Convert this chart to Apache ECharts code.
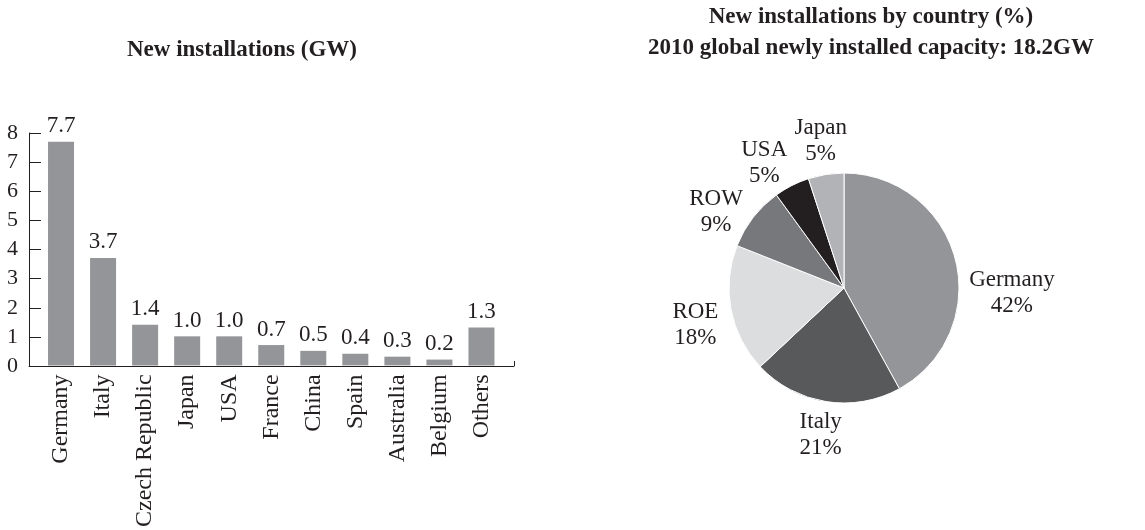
<!DOCTYPE html>
<html>
<head>
<meta charset="utf-8">
<script src="https://cdn.jsdelivr.net/npm/echarts@6/dist/echarts.min.js"></script>
<style>
  html, body { margin: 0; padding: 0; background: #ffffff; }
  #chart { width: 1145px; height: 530px; }
</style>
</head>
<body>
<div id="chart"></div>
<script>
// New PV installations in 2010, by country (GW)
const barCategories = ['Germany', 'Italy', 'Czech Republic', 'Japan', 'USA', 'France', 'China', 'Spain', 'Australia', 'Belgium', 'Others'];
const barValues = [7.7, 3.7, 1.4, 1.0, 1.0, 0.7, 0.5, 0.4, 0.3, 0.2, 1.3];
const yTicks = { min: 0, max: 8, interval: 1 };

// Share of the 2010 global newly installed capacity (%)
const pieNames = ['Germany', 'Italy', 'ROE', 'ROW', 'USA', 'Japan'];
const pieValues = [42, 21, 18, 9, 5, 5];

const barTitle = 'New installations (GW)';
const pieTitle = 'New installations by country (%)\n2010 global newly installed capacity: 18.2GW';

const FONT = "'Liberation Serif', 'Times New Roman', serif";
const INK = '#231f20';
const pieColors = ['#939598', '#58595b', '#dcdddf', '#77787b', '#231f20', '#b1b3b6'];

const pieCenter = [844, 288];
const pieRadius = 115;

// Label placement around the pie: angle shift (deg) and distance from centre
const labelTweaks = {
  Germany: { da: 16, dist: 168 },
  ROE: { da: -3, dist: 153 },
  ROW: { da: -7, dist: 149 },
  USA: { da: -5.6, dist: 148 }
};

const pieTotal = pieValues.reduce((a, b) => a + b, 0);
const midAngles = [];
let acc = 0;
pieValues.forEach(v => { midAngles.push((acc + v / 2) / pieTotal * 360); acc += v; });

const chart = echarts.init(document.getElementById('chart'), null, { renderer: 'canvas' });

chart.setOption({
  backgroundColor: '#ffffff',
  animation: false,
  title: [
    {
      text: barTitle,
      left: 237, top: 34, textAlign: 'center',
      textStyle: { fontFamily: FONT, fontWeight: 'bold', fontSize: 23, color: INK }
    },
    {
      text: pieTitle,
      left: 866, top: -3, textAlign: 'center',
      textStyle: { fontFamily: FONT, fontWeight: 'bold', fontSize: 23, color: INK, lineHeight: 31, align: 'center' }
    }
  ],
  grid: [
    // frame holding the y axis and the full-width baseline
    { left: 29, width: 485, top: 133, height: 233 },
    // band area for the bars
    { left: 40, width: 462.5, top: 133, height: 233 }
  ],
  xAxis: [
    {
      gridIndex: 0, type: 'value', min: 0, max: 1, interval: 1,
      axisLine: { show: true, lineStyle: { color: INK, width: 1 } },
      axisTick: { show: true, inside: true, length: 5, lineStyle: { color: INK } },
      axisLabel: { show: false }, splitLine: { show: false }
    },
    {
      gridIndex: 1, type: 'category', data: barCategories,
      axisLine: { show: false }, axisTick: { show: false },
      axisLabel: {
        rotate: 90, interval: 0, margin: 9,
        fontFamily: FONT, fontSize: 24, color: INK
      }
    }
  ],
  yAxis: [
    {
      gridIndex: 0, type: 'value', min: yTicks.min, max: yTicks.max, interval: yTicks.interval,
      axisLine: { show: true, lineStyle: { color: INK, width: 1 } },
      axisTick: { show: true, inside: true, length: 12, lineStyle: { color: INK } },
      axisLabel: { margin: 11, fontFamily: FONT, fontSize: 22, color: INK },
      splitLine: { show: false }
    },
    {
      gridIndex: 1, type: 'value', min: yTicks.min, max: yTicks.max, interval: yTicks.interval,
      show: false
    }
  ],
  series: [
    {
      type: 'bar',
      xAxisIndex: 1, yAxisIndex: 1,
      data: barValues,
      barWidth: 26,
      itemStyle: { color: '#939598' },
      label: {
        show: true, position: 'top', distance: 4,
        formatter: p => p.value.toFixed(1),
        fontFamily: FONT, fontSize: 23, color: INK
      }
    },
    {
      type: 'pie',
      center: pieCenter,
      radius: pieRadius,
      startAngle: 90,
      clockwise: true,
      avoidLabelOverlap: false,
      data: pieNames.map((n, i) => ({ name: n, value: pieValues[i] })),
      itemStyle: {
        color: p => pieColors[p.dataIndex],
        borderColor: '#ffffff', borderWidth: 1
      },
      label: {
        show: true, position: 'outside',
        formatter: '{b}\n{c}%',
        fontFamily: FONT, fontSize: 23, lineHeight: 26, color: INK, align: 'center'
      },
      labelLine: { show: false },
      labelLayout: params => {
        const i = params.dataIndex;
        const name = pieNames[i];
        const t = labelTweaks[name] || {};
        const ang = (midAngles[i] + (t.da || 0)) * Math.PI / 180;
        const dist = t.dist || 149;
        return {
          x: pieCenter[0] + dist * Math.sin(ang),
          y: pieCenter[1] - dist * Math.cos(ang),
          align: 'center',
          verticalAlign: 'middle'
        };
      }
    }
  ]
});
</script>
</body>
</html>
